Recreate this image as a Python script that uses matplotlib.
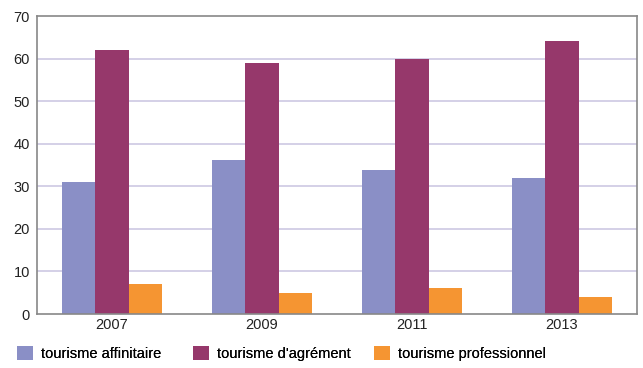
import matplotlib.pyplot as plt
import numpy as np

plt.rcParams['font.family'] = ['Liberation Sans', 'DejaVu Sans']

# données
years = ["2007", "2009", "2011", "2013"]
affinitaire = [31, 36.2, 33.8, 32]
agrement = [62, 59, 60, 64.2]
professionnel = [7, 5, 6, 4]

series = [
    ("tourisme affinitaire", affinitaire, "#8a8fc6"),
    ("tourisme d'agrément", agrement, "#96386b"),
    ("tourisme professionnel", professionnel, "#f59532"),
]

fig = plt.figure(figsize=(6.43, 3.68), dpi=100)
ax = fig.add_axes([37 / 643, 54 / 368, 600 / 643, 298 / 368])

x = np.arange(len(years))
w = 0.223
bars = []
for i, (label, vals, color) in enumerate(series):
    b = ax.bar(x + (i - 1) * w, vals, width=w, color=color, label=label, zorder=2)
    bars.append(b)

ax.set_xlim(-0.5, len(years) - 0.5)
ax.set_ylim(0, 70)
ax.set_yticks(range(0, 71, 10))
ax.set_xticks(x)
ax.set_xticklabels(years)
ax.tick_params(length=0, labelsize=10.5, colors="#222222")
ax.tick_params(axis="y", pad=5)
ax.tick_params(axis="x", pad=3)

for y in range(10, 70, 10):
    ax.axhline(y, color="#cdc8e3", linewidth=1.2, zorder=1)

for s in ax.spines.values():
    s.set_color("#888888")
    s.set_linewidth(1.2)

# une légende par série, en colonnes fixes sous le graphique
legend_x = [5 / 643, 181 / 643, 362 / 643]
for b, (label, _, _), lx in zip(bars, series, legend_x):
    leg = fig.legend([b], [label], loc="lower left", bbox_to_anchor=(lx, -5 / 368),
                     frameon=False, fontsize=10.5, handlelength=1.1, handleheight=1.1,
                     handletextpad=0.6, borderpad=0.3)
    fig.add_artist(leg)

fig.savefig("out.png", dpi=100)
